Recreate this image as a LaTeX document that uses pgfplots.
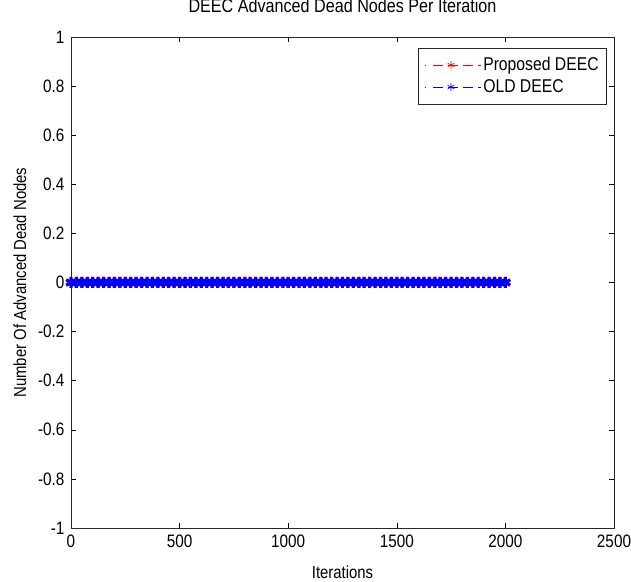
\documentclass[border=0pt]{standalone}
\usepackage{pgfplots}
\pgfplotsset{compat=1.18}
\usepackage{pgfplotstable}
\usepackage{fontspec}
\setmainfont{Liberation Sans}[FakeStretch=0.85]
\pgfplotstableread[row sep=\\]{
x y\\
0 0\\ 25 0\\ 50 0\\ 75 0\\ 100 0\\ 125 0\\ 150 0\\ 175 0\\ 200 0\\ 225 0\\
250 0\\ 275 0\\ 300 0\\ 325 0\\ 350 0\\ 375 0\\ 400 0\\ 425 0\\ 450 0\\ 475 0\\
500 0\\ 525 0\\ 550 0\\ 575 0\\ 600 0\\ 625 0\\ 650 0\\ 675 0\\ 700 0\\ 725 0\\
750 0\\ 775 0\\ 800 0\\ 825 0\\ 850 0\\ 875 0\\ 900 0\\ 925 0\\ 950 0\\ 975 0\\
1000 0\\ 1025 0\\ 1050 0\\ 1075 0\\ 1100 0\\ 1125 0\\ 1150 0\\ 1175 0\\ 1200 0\\ 1225 0\\
1250 0\\ 1275 0\\ 1300 0\\ 1325 0\\ 1350 0\\ 1375 0\\ 1400 0\\ 1425 0\\ 1450 0\\ 1475 0\\
1500 0\\ 1525 0\\ 1550 0\\ 1575 0\\ 1600 0\\ 1625 0\\ 1650 0\\ 1675 0\\ 1700 0\\ 1725 0\\
1750 0\\ 1775 0\\ 1800 0\\ 1825 0\\ 1850 0\\ 1875 0\\ 1900 0\\ 1925 0\\ 1950 0\\ 1975 0\\
2000 0\\
}\deadnodes
\newcommand{\tickfont}{\fontsize{18bp}{20bp}\selectfont}
\newcommand{\labelfont}{\fontsize{17.5bp}{20bp}\selectfont}
\newcommand{\titlefont}{\fontsize{19bp}{21bp}\selectfont}
\newcommand{\legfont}{\fontsize{18.5bp}{20bp}\selectfont}
\begin{document}
\begin{tikzpicture}
\path[use as bounding box] (-71bp,-54bp) rectangle (560bp,528bp);
\begin{axis}[
  at={(0,0)}, anchor=south west,
  scale only axis,
  width=543bp, height=491bp,
  xmin=0, xmax=2500, ymin=-1, ymax=1,
  xtick={0,500,1000,1500,2000,2500},
  ytick={-1,-0.8,-0.6,-0.4,-0.2,0,0.2,0.4,0.6,0.8,1},
  tick align=inside,
  major tick length=5bp,
  tick style={black, line width=0.5pt},
  axis line style={black!85, line width=0.7pt},
  /pgf/number format/assume math mode=true,
  /pgf/number format/.cd, fixed, 1000 sep={}, /pgfplots/.cd,
  ticklabel style={font=\tickfont},
  yticklabel style={xshift=-3bp},
  xticklabel style={yshift=-3bp},
  title={DEEC Advanced Dead Nodes Per Iteration},
  title style={font=\titlefont, at={(axis description cs:0.5,1.0367)}, anchor=base},
  xlabel={Iterations},
  ylabel={Number Of Advanced Dead Nodes},
  label style={font=\labelfont},
  xlabel style={at={(axis description cs:0.5,-0.0896)}, anchor=center},
  ylabel style={at={(axis description cs:-0.094,0.5)}, anchor=center},
  legend style={at={(0.987,0.978)}, anchor=north east, draw=black!85, line width=0.6pt,
    font=\legfont, inner sep=6bp, row sep=0bp,
    nodes={text height=14bp, text depth=4bp, inner sep=2bp},
    /tikz/every odd column/.append style={column sep=0bp}},
  legend cell align=left,
  legend image code/.code={
    \path (0bp,0bp) -- (1bp,0bp);
    \draw[#1, solid, line width=0.6pt, dash pattern=on 10bp off 5bp] (8bp,0bp) -- (56bp,0bp);
    \draw[#1, solid, every mark/.append style={line width=0.6pt, mark size=4bp}] plot coordinates {(26bp,0bp)};
  },
]
\addplot[red, dashed, line width=1pt, mark=asterisk, mark size=5.5bp, mark options={solid, line width=3pt}] table[x=x, y=y] {\deadnodes};
\addlegendentry{Proposed DEEC}
\addplot[blue, dashed, line width=1pt, mark=asterisk, mark size=5.5bp, mark options={solid, line width=3pt}] table[x=x, y=y] {\deadnodes};
\addlegendentry{OLD DEEC}
\end{axis}
\end{tikzpicture}
\end{document}
